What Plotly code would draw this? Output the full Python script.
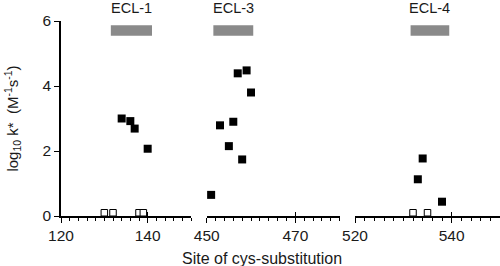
import plotly.graph_objects as go

# ---- data ----
ecl1_filled_x = [134, 136, 137, 140]
ecl1_filled_y = [3.0, 2.92, 2.69, 2.07]
ecl1_open_x = [130, 132, 138, 139]
ecl1_open_y = [0.1, 0.1, 0.1, 0.1]

ecl3_filled_x = [451, 453, 455, 456, 457, 458, 459, 460]
ecl3_filled_y = [0.65, 2.79, 2.15, 2.9, 4.39, 1.74, 4.48, 3.8]

ecl4_filled_x = [534, 533, 538]
ecl4_filled_y = [1.77, 1.13, 0.44]
ecl4_open_x = [532, 535]
ecl4_open_y = [0.1, 0.1]

loop_names = ["ECL-1", "ECL-3", "ECL-4"]
loop_start = [131.5, 451.5, 531.5]
loop_end = [141, 460.5, 539.5]
loop_y = 5.71

panel_ranges = [[120, 150], [450, 480], [520, 550]]
panel_tickvals = [[120, 140], [450, 470], [520, 540]]
panel_capvals = [[120, 140, 150], [450, 470, 480], [520, 540, 550]]
y_tickvals = [0, 2, 4, 6]

FONT = "Liberation Sans, Arial, sans-serif"
TXT = "#1a1a1a"

L = 61
W = 500 - L
domains = [[0, 130 / W], [145.7 / W, 278.7 / W], [294 / W, 1.0]]

fig = go.Figure()

filled_sets = [(ecl1_filled_x, ecl1_filled_y), (ecl3_filled_x, ecl3_filled_y), (ecl4_filled_x, ecl4_filled_y)]
open_sets = [(ecl1_open_x, ecl1_open_y), None, (ecl4_open_x, ecl4_open_y)]

for i in range(3):
    xa = "x" if i == 0 else f"x{i+1}"
    fx, fy = filled_sets[i]
    fig.add_trace(go.Scatter(x=fx, y=fy, mode="markers", xaxis=xa, yaxis="y",
                             marker=dict(symbol="square", size=8, color="black"),
                             showlegend=False, cliponaxis=False))
    if open_sets[i] is not None:
        ox, oy = open_sets[i]
        fig.add_trace(go.Scatter(x=ox, y=oy, mode="markers", xaxis=xa, yaxis="y",
                                 marker=dict(symbol="square", size=6.5, color="white",
                                             line=dict(color="black", width=1)),
                                 showlegend=False, cliponaxis=False))
    fig.add_shape(type="rect", xref=xa, yref="y", x0=loop_start[i], x1=loop_end[i],
                  y0=loop_y - 0.16, y1=loop_y + 0.16, fillcolor="#8a8a8a", line=dict(width=0))
    fig.add_annotation(x=(loop_start[i] + loop_end[i]) / 2, y=1.0, xref=xa, yref="paper",
                       yanchor="middle", yshift=13, text=loop_names[i], showarrow=False,
                       font=dict(family=FONT, size=14.5, color=TXT))
    fig.add_trace(go.Scatter(x=[panel_ranges[i][0]], y=[0], mode="markers", xaxis=f"x{i+4}", yaxis="y",
                             marker=dict(size=1, color="rgba(0,0,0,0)"), showlegend=False, hoverinfo="skip"))

layout = dict(
    width=500, height=266,
    margin=dict(l=L, r=0, t=21, b=50),
    paper_bgcolor="white", plot_bgcolor="white",
    font=dict(family=FONT, size=15, color=TXT),
    yaxis=dict(range=[0, 6], tickvals=y_tickvals, ticks="outside", ticklen=5, tickwidth=1,
               tickcolor="black", showline=True, linecolor="black", linewidth=1.5,
               showgrid=False, zeroline=False,
               tickfont=dict(size=15.5, color=TXT),
               title=dict(text="log<sub>10</sub> k*  (M<sup>-1</sup>s<sup>-1</sup>)",
                          font=dict(size=15, color=TXT), standoff=20)),
)
for i in range(3):
    key = "xaxis" if i == 0 else f"xaxis{i+1}"
    main = "x" if i == 0 else f"x{i+1}"
    layout[key] = dict(domain=domains[i], range=panel_ranges[i], anchor="y",
                       tickvals=panel_tickvals[i],
                       ticks="outside", ticklen=5, tickwidth=1, tickcolor="black",
                       minor=dict(dtick=2, tick0=panel_ranges[i][0], ticks="outside", ticklen=3,
                                  tickwidth=1, tickcolor="black", showgrid=False),
                       showline=True, linecolor="black", linewidth=1.5,
                       showgrid=False, zeroline=False,
                       tickfont=dict(size=15.5, color=TXT))
    layout[f"xaxis{i+4}"] = dict(domain=domains[i], range=panel_ranges[i], anchor="y",
                                 overlaying=main,
                                 tickvals=panel_capvals[i], ticks="inside", ticklen=4, tickwidth=1,
                                 tickcolor="black", showticklabels=False, showline=False,
                                 showgrid=False, zeroline=False)

fig.update_layout(**layout)
fig.add_annotation(text="Site of cys-substitution", x=0.5, y=0, xref="paper", yref="paper",
                   yanchor="middle", yshift=-42, xshift=-19, showarrow=False,
                   font=dict(family=FONT, size=16, color=TXT))

fig.write_html("out.html")
